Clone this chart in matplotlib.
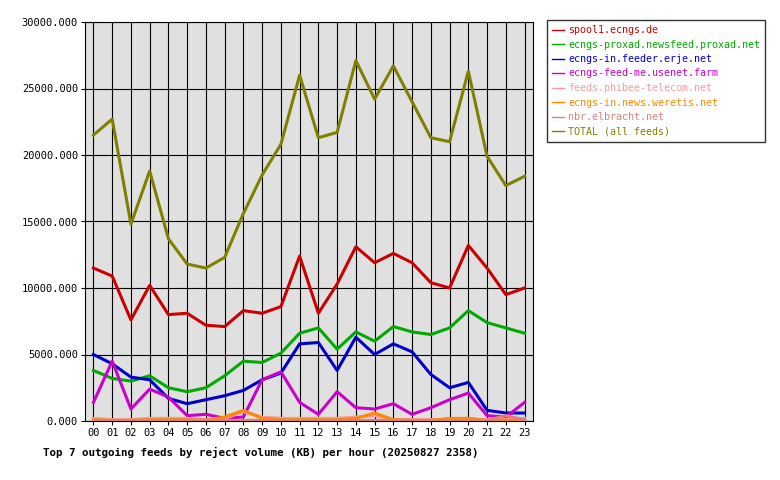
import matplotlib
matplotlib.use("Agg")
import matplotlib.pyplot as plt

hours = ["%02d" % h for h in range(24)]
names = ["spool1.ecngs.de", "ecngs-proxad.newsfeed.proxad.net", "ecngs-in.feeder.erje.net",
         "ecngs-feed-me.usenet.farm", "feeds.phibee-telecom.net", "ecngs-in.news.weretis.net",
         "nbr.elbracht.net", "TOTAL (all feeds)"]
colors = ["#cc0000", "#00aa00", "#0000cc", "#cc00cc", "#ff9999", "#ff8800", "#e08080", "#808000"]
spool1 = [11500, 10900, 7600, 10200, 8000, 8100, 7200, 7100, 8300, 8100, 8600, 12400, 8100, 10300, 13100, 11900, 12600, 11900, 10400, 10000, 13200, 11500, 9500, 10000]
proxad = [3800, 3200, 3000, 3400, 2500, 2200, 2500, 3400, 4500, 4400, 5100, 6600, 7000, 5400, 6700, 6000, 7100, 6700, 6500, 7000, 8300, 7400, 7000, 6600]
erje = [5000, 4300, 3300, 3100, 1700, 1300, 1600, 1900, 2300, 3100, 3600, 5800, 5900, 3800, 6300, 5000, 5800, 5200, 3500, 2500, 2900, 800, 600, 600]
farm = [1400, 4500, 900, 2400, 1800, 400, 500, 200, 300, 3100, 3700, 1400, 500, 2200, 1000, 900, 1300, 500, 1000, 1600, 2100, 400, 300, 1400]
phibee = [200, 100, 100, 200, 200, 200, 100, 200, 700, 300, 200, 200, 200, 200, 300, 400, 100, 100, 100, 100, 100, 100, 100, 200]
weretis = [100, 50, 50, 100, 100, 100, 50, 300, 800, 200, 100, 100, 100, 100, 200, 600, 100, 50, 50, 200, 200, 50, 50, 100]
elbracht = [50, 50, 50, 50, 50, 50, 50, 50, 50, 50, 50, 50, 50, 50, 50, 50, 50, 50, 50, 50, 50, 50, 400, 100]
total = [21500, 22700, 14800, 18800, 13700, 11800, 11500, 12300, 15600, 18500, 20800, 26000, 21300, 21700, 27100, 24200, 26700, 24000, 21300, 21000, 26300, 19900, 17700, 18400]
series = [spool1, proxad, erje, farm, phibee, weretis, elbracht, total]

plt.rcParams["font.family"] = "DejaVu Sans Mono"
fig = plt.figure(figsize=(7.8, 4.8), dpi=100)
ax = fig.add_axes([85/780, 1-421/480, 448/780, 399/480])
ax.set_facecolor("#e0e0e0")
x = list(range(24))
for s, c, n in zip(series, colors, names):
    ax.plot(x, s, color=c, lw=2.2, label=n)
ax.set_xlim(-0.45, 23.45)
ax.set_ylim(0, 30000)
ax.set_xticks(x)
ax.set_xticklabels(hours, fontsize=7.5)
ax.set_yticks(range(0, 30001, 5000))
ax.set_yticklabels(["%d.000" % v for v in range(0, 30001, 5000)], fontsize=7.5)
ax.grid(True, color="black", lw=0.8)
ax.set_axisbelow(True)
ax.tick_params(length=3, pad=2)
leg = fig.legend(loc="upper left", bbox_to_anchor=(547/780, 1-20/480), fontsize=7.2,
                 frameon=True, fancybox=False, edgecolor="black", handlelength=1.2,
                 handletextpad=0.4, borderaxespad=0, labelspacing=0.45, borderpad=0.5)
for t, c in zip(leg.get_texts(), colors):
    t.set_color(c)
for l in leg.get_lines():
    l.set_linewidth(1)
fig.text(43/780, 1-452/480, "Top 7 outgoing feeds by reject volume (KB) per hour (20250827 2358)",
         fontsize=7.8, fontweight="bold", va="center")
fig.savefig("out.png")
